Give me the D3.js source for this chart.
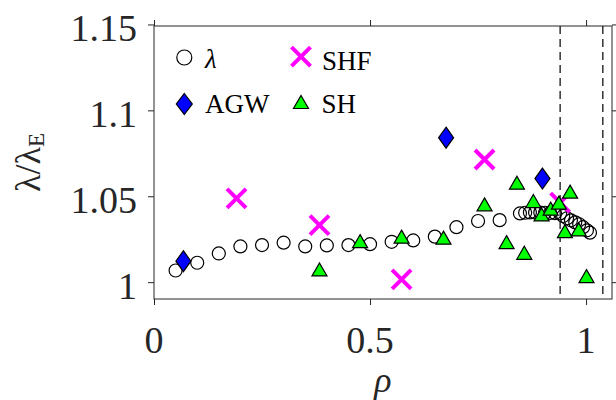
<!DOCTYPE html>
<html><head><meta charset="utf-8">
<script src="https://cdn.jsdelivr.net/npm/d3@7"></script>
<style>body{margin:0;background:#fff}svg{display:block}</style>
</head><body>
<svg id="c" width="616" height="400"></svg>
<script>
// ---- data ----
const lambdaRho = [0.05,0.10,0.15,0.20,0.25,0.30,0.35,0.40,0.45,0.50,0.55,0.60,0.65,0.70,0.75,0.80,
  0.847,0.859,0.870,0.882,0.894,0.905,0.917,0.928,0.940,0.947,0.956,0.965,0.975,0.984,0.993,1.002,1.009];
const lambdaVal = [1.0068,1.0113,1.0167,1.0208,1.0216,1.0230,1.0208,1.0214,1.0216,1.0221,1.0235,1.0243,1.0265,1.0320,1.0356,1.0361,
  1.0400,1.0404,1.0406,1.0406,1.0405,1.0404,1.0403,1.0402,1.0400,1.0385,1.0372,1.0360,1.0348,1.0337,1.0320,1.0302,1.0288];
const agwRho = [0.068,0.676,0.899];
const agwVal = [1.0122,1.0841,1.0603];
const shfRho = [0.191,0.383,0.573,0.765,0.940];
const shfVal = [1.0488,1.0332,1.0016,1.0714,1.0463];
const shRho = [0.383,0.477,0.573,0.670,0.765,0.816,0.840,0.857,0.878,0.897,0.918,0.937,0.951,0.963,0.983,1.001];
const shVal = [1.0074,1.0239,1.0265,1.0259,1.0453,1.0233,1.0579,1.0171,1.0472,1.0394,1.0428,1.0463,1.0297,1.0527,1.0307,1.0035];
const dashedRho = [0.940,1.0387];
const xTicks = [0,0.5,1];
const yTicks = [1,1.05,1.1,1.15];
const xTickLabels = ["0","0.5","1"];
const yTickLabels = ["1","1.05","1.1","1.15"];

// ---- layout ----
const L=154,R=612,T=26,B=299;
const x=d3.scaleLinear().domain([0,1.06]).range([L,R]);
const y=d3.scaleLinear().domain([0.9902,1.1491]).range([B,T]);
const svg=d3.select("#c");
const font="'Liberation Serif','Times New Roman',serif";
const axCol="#262626";

// dashed lines
svg.selectAll("line.dash").data(dashedRho).enter().append("line")
  .attr("x1",d=>x(d)).attr("x2",d=>x(d)).attr("y1",T).attr("y2",B)
  .attr("stroke","#333").attr("stroke-width",1.5).attr("stroke-dasharray","8,5");

// axes
function styleAxis(g){g.select(".domain").remove();g.selectAll("line").attr("stroke",axCol).attr("stroke-width",1);g.selectAll("text").remove();}
svg.append("g").attr("transform",`translate(0,${B})`).call(d3.axisBottom(x).tickValues(xTicks).tickSizeOuter(0).tickSizeInner(6)).call(styleAxis);
svg.append("g").attr("transform",`translate(0,${T})`).call(d3.axisTop(x).tickValues(xTicks).tickSizeOuter(0).tickSizeInner(6)).call(styleAxis);
svg.append("g").attr("transform",`translate(${L},0)`).call(d3.axisLeft(y).tickValues(yTicks).tickSizeOuter(0).tickSizeInner(6)).call(styleAxis);
svg.append("g").attr("transform",`translate(${R},0)`).call(d3.axisRight(y).tickValues(yTicks).tickSizeOuter(0).tickSizeInner(6)).call(styleAxis);
svg.append("rect").attr("x",L).attr("y",T).attr("width",R-L).attr("height",B-T)
  .attr("fill","none").attr("stroke",axCol).attr("stroke-width",1);

// tick labels
svg.selectAll("text.xt").data(xTicks).enter().append("text")
  .attr("x",d=>x(d)).attr("y",353).attr("text-anchor","middle")
  .attr("font-family",font).attr("font-size",38).attr("fill",axCol)
  .text((d,i)=>xTickLabels[i]);
svg.selectAll("text.yt").data(yTicks).enter().append("text")
  .attr("x",137).attr("y",d=>y(d)+16.4).attr("text-anchor","end")
  .attr("font-family",font).attr("font-size",38).attr("fill",axCol)
  .text((d,i)=>yTickLabels[i]);

// axis titles
svg.append("text").attr("x",(L+R)/2).attr("y",392).attr("text-anchor","middle")
  .attr("font-family",font).attr("font-size",36).attr("font-style","italic").attr("fill",axCol).text("ρ");
const yl=svg.append("text").attr("transform",`translate(40,${(T+B)/2}) rotate(-90)`)
  .attr("text-anchor","middle").attr("font-family",font).attr("font-size",36).attr("fill",axCol);
yl.append("tspan").text("λ/λ");
yl.append("tspan").attr("font-size",23).attr("dy",4).text("E");

// marker helpers
const diamond=(cx,cy,w,h)=>`M${cx},${cy-h}L${cx+w},${cy}L${cx},${cy+h}L${cx-w},${cy}Z`;
const tri=(cx,cy,w,h)=>`M${cx},${cy-h/2}L${cx+w/2},${cy+h/2}L${cx-w/2},${cy+h/2}Z`;
const cross=(cx,cy,s)=>`M${cx-s},${cy-s}L${cx+s},${cy+s}M${cx-s},${cy+s}L${cx+s},${cy-s}`;

// lambda circles
svg.selectAll("circle.lam").data(lambdaRho).enter().append("circle")
  .attr("cx",d=>x(d)).attr("cy",(d,i)=>y(lambdaVal[i])).attr("r",6.5)
  .attr("fill","none").attr("stroke","#000").attr("stroke-width",1.2);
// AGW diamonds
svg.selectAll("path.agw").data(agwRho).enter().append("path")
  .attr("d",(d,i)=>diamond(x(d),y(agwVal[i]),7.5,10.5))
  .attr("fill","#0000ff").attr("stroke","#000").attr("stroke-width",1.2);
// SHF crosses
svg.selectAll("path.shf").data(shfRho).enter().append("path")
  .attr("d",(d,i)=>cross(x(d),y(shfVal[i]),9.5))
  .attr("fill","none").attr("stroke","#ff00ff").attr("stroke-width",4);
// SH triangles
svg.selectAll("path.sh").data(shRho).enter().append("path")
  .attr("d",(d,i)=>tri(x(d),y(shVal[i]),15,13))
  .attr("fill","#00ff00").attr("stroke","#000").attr("stroke-width",1.2);

// legend
const lg=svg.append("g");
lg.append("circle").attr("cx",184.3).attr("cy",57.5).attr("r",7.5).attr("fill","none").attr("stroke","#000").attr("stroke-width",1.2);
lg.append("path").attr("d",diamond(184.3,104,8,10.5)).attr("fill","#0000ff").attr("stroke","#000").attr("stroke-width",1.2);
lg.append("path").attr("d",cross(301,56.7,9.5)).attr("fill","none").attr("stroke","#ff00ff").attr("stroke-width",4);
lg.append("path").attr("d",tri(301,102,15,13)).attr("fill","#00ff00").attr("stroke","#000").attr("stroke-width",1.2);
const lt=[["λ",205,68,true],["AGW",205,113,false],["SHF",322,70,false],["SH",321.5,113,false]];
lt.forEach(([t,tx,ty,it])=>lg.append("text").attr("x",tx).attr("y",ty)
  .attr("font-family",font).attr("font-size",27).attr("font-style",it?"italic":"normal").attr("fill","#000").text(t));
</script>
</body></html>
